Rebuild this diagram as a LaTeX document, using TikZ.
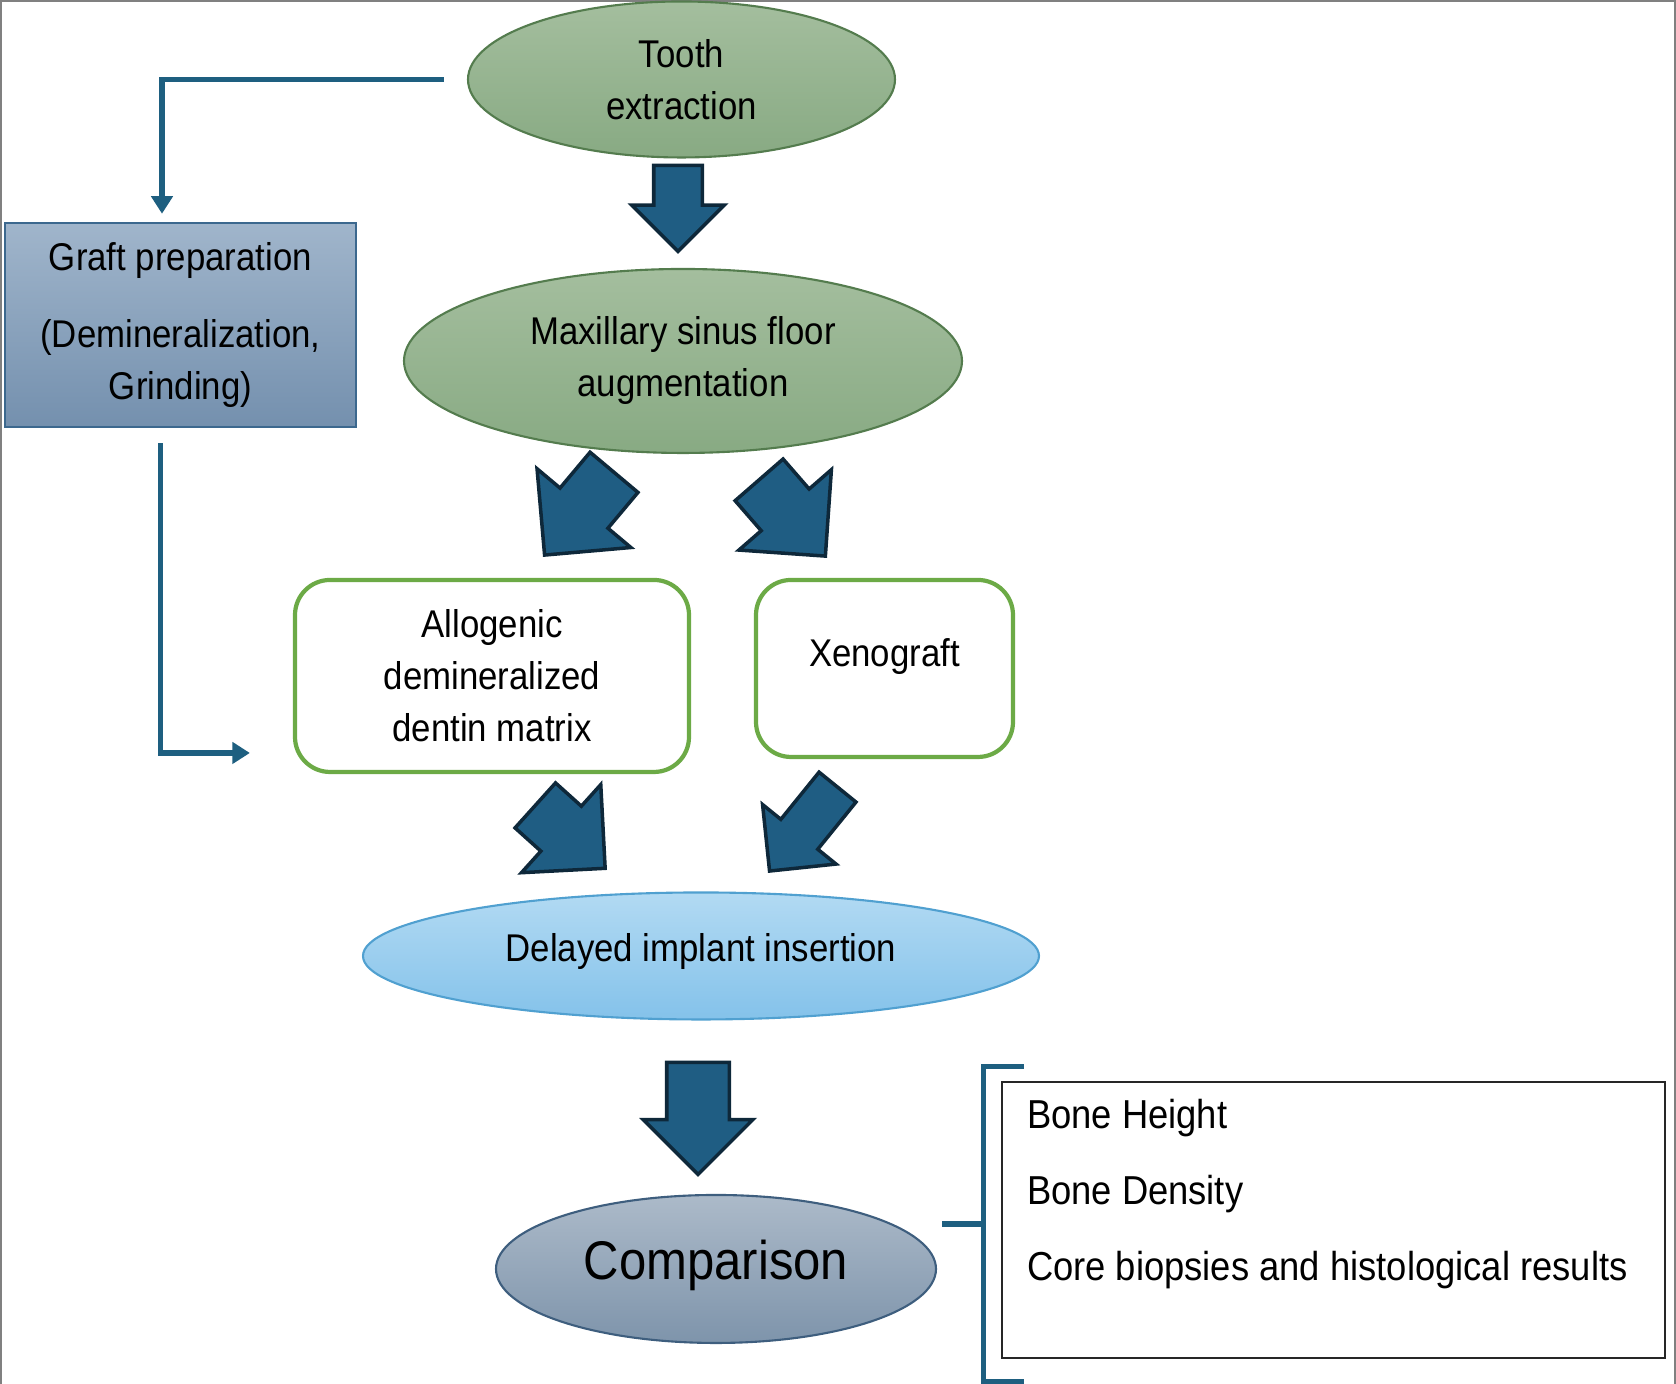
\documentclass[tikz,border=0pt]{standalone}
\usepackage{fontspec}
\setmainfont{Liberation Sans}[FakeStretch=0.9]
\usetikzlibrary{shapes.geometric,shapes.arrows,arrows.meta,calc}

\definecolor{sageTop}{RGB}{164,190,158}
\definecolor{sageBot}{RGB}{136,170,131}
\definecolor{sageLine}{RGB}{84,124,78}
\definecolor{steelTop}{RGB}{160,181,203}
\definecolor{steelBot}{RGB}{116,144,174}
\definecolor{steelLine}{RGB}{60,104,142}
\definecolor{leafGreen}{RGB}{108,170,70}
\definecolor{skyTop}{RGB}{178,218,243}
\definecolor{skyBot}{RGB}{132,194,234}
\definecolor{skyLine}{RGB}{80,160,208}
\definecolor{slateTop}{RGB}{172,186,201}
\definecolor{slateBot}{RGB}{126,148,171}
\definecolor{slateLine}{RGB}{62,94,126}
\definecolor{arrowBlue}{RGB}{31,93,131}
\definecolor{arrowEdge}{RGB}{14,40,58}
\definecolor{linkBlue}{RGB}{30,95,128}

\begin{document}
\begin{tikzpicture}[
    txt/.style={font=\fontsize{11}{14.8}\selectfont, align=center, text=black},
    oval/.style={ellipse, draw, line width=0.6pt, inner sep=0pt, txt},
    greenbox/.style={draw=leafGreen, line width=1.2pt, rounded corners=0.35cm, fill=white, inner sep=0pt, txt},
    bigarrow/.style={single arrow, fill=arrowBlue, draw=arrowEdge, line width=1pt, inner xsep=0pt, anchor=tip, single arrow tip angle=90},
    link/.style={linkBlue, line width=1.5pt},
    linkarrow/.style={link, -{Triangle[width=6pt,length=5pt]}}
  ]
  \useasboundingbox (0,0) rectangle (16.76,13.84);
  \draw[gray, line width=0.6pt] (0.01,0) -- (0.01,13.83) -- (16.75,13.83) -- (16.75,0);

  \node[oval, draw=sageLine, top color=sageTop, bottom color=sageBot, minimum width=4.27cm, minimum height=1.56cm] (tooth) at (6.815,13.045) {Tooth\\extraction};
  \node[oval, draw=sageLine, top color=sageTop, bottom color=sageBot, minimum width=5.58cm, minimum height=1.84cm] (sinus) at (6.83,10.23) {Maxillary sinus floor\\augmentation};

  \node[draw=steelLine, line width=0.7pt, top color=steelTop, bottom color=steelBot, minimum width=3.51cm, minimum height=2.04cm, inner sep=0pt, txt] (graft) at (1.805,10.59) {Graft preparation\\[7pt](Demineralization,\\Grinding)};

  \node[greenbox, minimum width=3.94cm, minimum height=1.92cm] (allo) at (4.92,7.08) {Allogenic\\demineralized\\dentin matrix};
  \node[greenbox, minimum width=2.57cm, minimum height=1.77cm, text depth=9pt] (xeno) at (8.845,7.155) {Xenograft};

  \node[oval, draw=skyLine, top color=skyTop, bottom color=skyBot, minimum width=6.76cm, minimum height=1.27cm, text depth=4.7pt] (delayed) at (7.01,4.28) {Delayed implant insertion};
  \node[oval, draw=slateLine, top color=slateTop, bottom color=slateBot, minimum width=4.40cm, minimum height=1.48cm, font=\fontsize{15.5}{18}\selectfont, text depth=5.3pt] (compare) at (7.16,1.15) {Comparison};

  \node[draw=black!85, line width=0.7pt, inner xsep=0.25cm, inner ysep=0.17cm, font=\fontsize{11.5}{21.6}\selectfont] (outcomes) at (13.335,1.64)
    {\parbox[c][2.42cm][t]{6.13cm}{\raggedright Bone Height\\Bone Density\\Core biopsies and histological results}};

  \node[bigarrow, rotate=-90, minimum height=0.86cm, inner ysep=0.225cm, single arrow head extend=0.22cm] (down1) at (6.78,11.30) {};
  \node[bigarrow, rotate=-130, minimum height=1.08cm, inner ysep=0.295cm, single arrow head extend=0.30cm] (split1) at (5.43,8.27) {};
  \node[bigarrow, rotate=-49, minimum height=1.01cm, inner ysep=0.30cm, single arrow head extend=0.295cm] (split2) at (8.27,8.26) {};
  \node[bigarrow, rotate=-42, minimum height=0.94cm, inner ysep=0.285cm, single arrow head extend=0.29cm] (merge1) at (6.07,5.14) {};
  \node[bigarrow, rotate=-129, minimum height=1.08cm, inner ysep=0.22cm, single arrow head extend=0.235cm] (merge2) at (7.68,5.11) {};
  \node[bigarrow, rotate=-90, minimum height=1.12cm, inner ysep=0.295cm, single arrow head extend=0.235cm] (down2) at (6.98,2.07) {};

  \draw[linkarrow] ([xshift=-0.23cm]tooth.west) -| ([shift={(-0.185,0.08)}]graft.north);
  \draw[linkarrow] ([shift={(-0.2,-0.15)}]graft.south) |- ([shift={(-0.43,-0.77)}]allo.west);

  \coordinate (brtop) at ([shift={(-0.17,0.14)}]outcomes.north west);
  \coordinate (brbot) at ([shift={(-0.17,-0.22)}]outcomes.south west);
  \coordinate (brmid) at ($(brtop)!0.5!(brbot)$);
  \draw[link] ([xshift=0.40cm]brtop) -- (brtop) -- (brbot) -- ++(0.40,0);
  \draw[link] (brmid) -- ++(-0.42,0);
\end{tikzpicture}
\end{document}
